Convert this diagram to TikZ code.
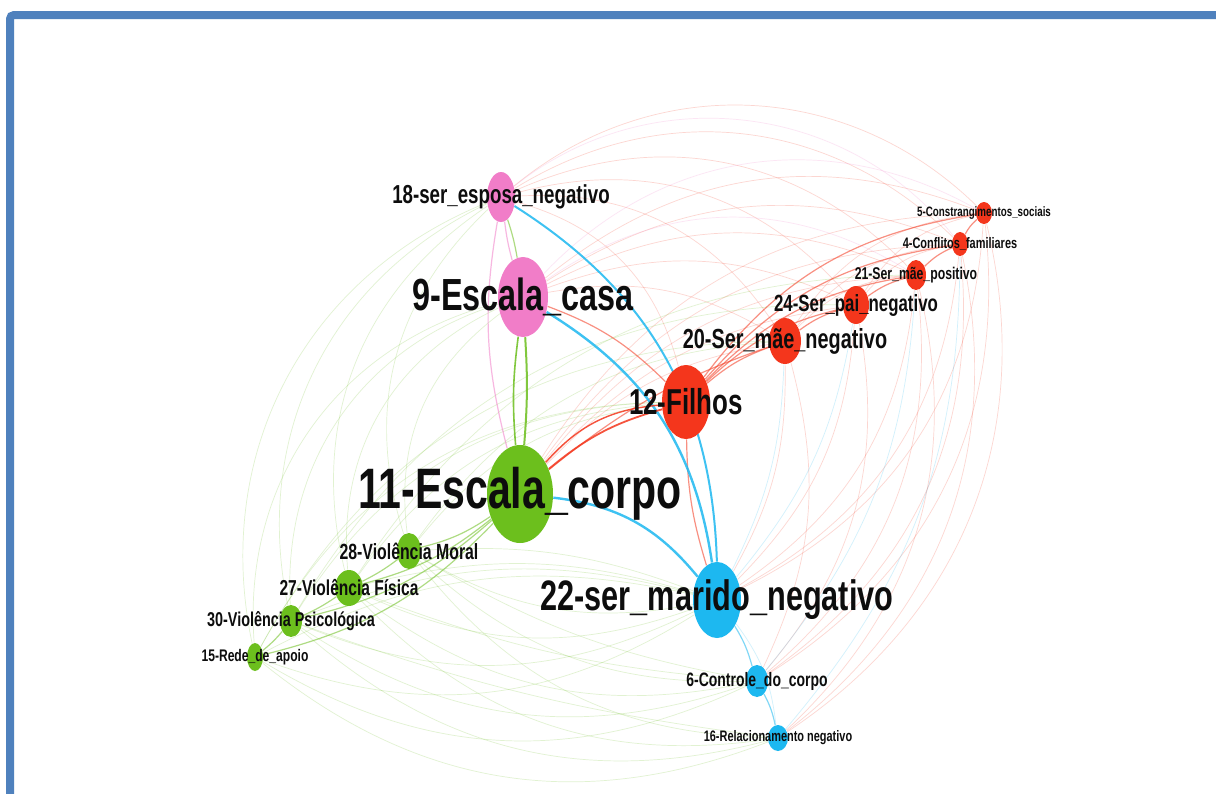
\documentclass[tikz,border=0pt]{standalone}
\usepackage{fontspec}
\setmainfont[FakeStretch=0.72]{Liberation Sans}
\usepackage{tikz}
\usetikzlibrary{shapes.geometric,backgrounds}
\definecolor{FrameBlue}{HTML}{4F81BD}
\definecolor{NodeRed}{HTML}{F4361C}
\definecolor{NodePink}{HTML}{F17DC8}
\definecolor{NodeGreen}{HTML}{6CBF1D}
\definecolor{NodeBlue}{HTML}{1DB8F0}

\begin{document}
\begin{tikzpicture}[x=0.5pt,y=-0.5pt]
  \tikzstyle{vtx}=[ellipse,inner sep=0pt]
  \tikzstyle{lbl}=[inner sep=0pt,text=black!95]
  \tikzstyle{faint}=[line width=0.35pt,opacity=0.2]
  \tikzstyle{mid}=[line width=0.6pt,opacity=0.55]
  \tikzstyle{strong}=[line width=1.2pt,opacity=0.85]
  \useasboundingbox (0,0) rectangle (1216,793);

  % vertices
  \node[vtx,fill=NodePink,minimum width=14pt,minimum height=25pt] (n18) at (501,197) {};
  \node[vtx,fill=NodePink,minimum width=25pt,minimum height=40pt] (n9) at (523,297) {};
  \node[vtx,fill=NodeGreen,minimum width=33pt,minimum height=49pt] (n11) at (520,494) {};
  \node[vtx,fill=NodeRed,minimum width=24pt,minimum height=37pt] (n12) at (686,402) {};
  \node[vtx,fill=NodeBlue,minimum width=24pt,minimum height=38pt] (n22) at (717,600) {};
  \node[vtx,fill=NodeRed,minimum width=16pt,minimum height=23pt] (n20) at (785,341) {};
  \node[vtx,fill=NodeRed,minimum width=13pt,minimum height=19pt] (n24) at (856,305) {};
  \node[vtx,fill=NodeRed,minimum width=10pt,minimum height=15pt] (n21) at (916,275) {};
  \node[vtx,fill=NodeRed,minimum width=8pt,minimum height=12pt] (n4) at (960,244) {};
  \node[vtx,fill=NodeRed,minimum width=8pt,minimum height=11pt] (n5) at (984,213) {};
  \node[vtx,fill=NodeGreen,minimum width=12pt,minimum height=18pt] (n28) at (409,551) {};
  \node[vtx,fill=NodeGreen,minimum width=14pt,minimum height=18pt] (n27) at (349,588) {};
  \node[vtx,fill=NodeGreen,minimum width=11pt,minimum height=16pt] (n30) at (291,621) {};
  \node[vtx,fill=NodeGreen,minimum width=8pt,minimum height=14pt] (n15) at (255,657) {};
  \node[vtx,fill=NodeBlue,minimum width=11pt,minimum height=16pt] (n6) at (757,681) {};
  \node[vtx,fill=NodeBlue,minimum width=10pt,minimum height=13pt] (n16) at (778,738) {};

  % labels
  \node[lbl,font=\bfseries\fontsize{13}{14}\selectfont] (t18) at (n18) {18-ser\_esposa\_negativo};
  \node[lbl,font=\bfseries\fontsize{22.5}{24}\selectfont] (t9) at (n9) {9-Escala\_casa};
  \node[lbl,font=\bfseries\fontsize{28.5}{30}\selectfont] (t11) at (n11) {11-Escala\_corpo};
  \node[lbl,font=\bfseries\fontsize{18}{20}\selectfont] (t12) at (n12) {12-Filhos};
  \node[lbl,font=\bfseries\fontsize{21.3}{23}\selectfont] (t22) at (n22) {22-ser\_marido\_negativo};
  \node[lbl,font=\bfseries\fontsize{13.8}{15}\selectfont] (t20) at (n20) {20-Ser\_mãe\_negativo};
  \node[lbl,font=\bfseries\fontsize{11.7}{13}\selectfont] (t24) at (n24) {24-Ser\_pai\_negativo};
  \node[lbl,font=\bfseries\fontsize{8.5}{10}\selectfont] (t21) at (n21) {21-Ser\_mãe\_positivo};
  \node[lbl,font=\bfseries\fontsize{7.6}{9}\selectfont] (t4) at (n4) {4-Conflitos\_familiares};
  \node[lbl,font=\bfseries\fontsize{6.8}{8}\selectfont] (t5) at (n5) {5-Constrangimentos\_sociais};
  \node[lbl,font=\bfseries\fontsize{11}{12}\selectfont] (t28) at (n28) {28-Violência Moral};
  \node[lbl,font=\bfseries\fontsize{10.8}{12}\selectfont] (t27) at (n27) {27-Violência Física};
  \node[lbl,font=\bfseries\fontsize{10}{11}\selectfont] (t30) at (n30) {30-Violência Psicológica};
  \node[lbl,font=\bfseries\fontsize{8.4}{9}\selectfont] (t15) at (n15) {15-Rede\_de\_apoio};
  \node[lbl,font=\bfseries\fontsize{9.7}{11}\selectfont] (t6) at (n6) {6-Controle\_do\_corpo};
  \node[lbl,font=\bfseries\fontsize{7.6}{9}\selectfont] (t16) at (n16) {16-Relacionamento negativo};

  % edges
  \begin{scope}[on background layer]
    \fill[white] (0,0) rectangle (1216,793);
    % faint red arcs
    \foreach \s/\t/\b in {n9/n20/20,n9/n24/22,n9/n21/25,n9/n4/27,n9/n5/30,
        n18/n12/30,n18/n20/30,n18/n24/32,n18/n21/35,n18/n4/38,n18/n5/42,
        n11/n20/18,n11/n24/20,n11/n21/24,n11/n4/26,n11/n5/28,
        n20/n21/20,n20/n4/22,n20/n5/25,n24/n4/20,n24/n5/22,
        n20/n22/15,n24/n22/20,n21/n22/25,n4/n22/28,n5/n22/30,
        n20/n6/20,n24/n6/25,n21/n6/28,n4/n6/30,n5/n6/32,
        n21/n16/30,n4/n16/32,n5/n16/35}
      \draw[faint,NodeRed] (\s) to[bend left=\b] (\t);
    % faint green arcs
    \foreach \s/\t/\b in {n15/n9/40,n30/n9/38,n27/n9/35,n28/n9/30,
        n15/n18/40,n30/n18/38,n27/n18/35,n28/n18/32,
        n15/n12/30,n30/n12/28,n27/n12/25,n28/n12/22,
        n15/n20/30,n30/n24/30,n28/n20/25,n27/n21/28,
        n22/n28/20,n22/n27/22,n22/n30/24,n22/n15/26,
        n6/n28/22,n6/n27/24,n6/n30/26,n6/n15/28,
        n16/n28/25,n16/n27/27,n16/n30/28,n16/n15/30,
        n28/n22/12,n27/n22/15,n30/n22/18,n15/n22/20,
        n28/n6/-10,n27/n6/-8,n30/n16/-6}
      \draw[faint,NodeGreen] (\s) to[bend left=\b] (\t);
    % faint pink and blue arcs
    \foreach \s/\t/\b in {n9/n5/38,n18/n4/45,n9/n21/33}
      \draw[faint,NodePink] (\s) to[bend left=\b] (\t);
    \foreach \s/\t/\b in {n22/n20/-12,n22/n24/-15,n6/n21/-18,n16/n4/-20,n22/n16/15}
      \draw[faint,NodeBlue] (\s) to[bend left=\b] (\t);
    % medium edges
    \foreach \s/\t/\b in {n12/n20/10,n12/n24/15,n12/n21/18,n12/n4/20,n12/n5/22,
        n20/n24/10,n24/n21/10,n21/n4/10,n4/n5/10,n9/n12/12,n11/n20/10,n12/n22/-8}
      \draw[mid,NodeRed] (\s) to[bend left=\b] (\t);
    \foreach \s/\t/\b in {n11/n28/10,n11/n27/12,n11/n30/14,n11/n15/16,
        n28/n27/5,n27/n30/5,n30/n15/5,n18/n9/4}
      \draw[mid,NodeGreen] (\s) to[bend left=\b] (\t);
    \foreach \s/\t/\b in {n22/n6/8,n6/n16/8}
      \draw[mid,NodeBlue] (\s) to[bend left=\b] (\t);
    \draw[mid,NodePink] (n9) to[bend left=4] (n18);
    \draw[mid,NodePink] (n11) to[bend left=12] (n18);
    % strong edges
    \draw[strong,NodeBlue,line width=1pt] (n18) to[bend left=28] (n22);
    \draw[strong,NodeBlue] (n9) to[bend left=25] (n22);
    \draw[strong,NodeBlue] (n11) to[bend left=22] (n22);
    \draw[strong,NodeRed,line width=0.9pt] (n11) to[bend left=12] (n12);
    \draw[strong,NodeRed,line width=0.7pt] (n11) to[bend left=22] (n12);
    \draw[strong,NodeGreen,line width=1pt] (n9) to[bend left=4] (n11);
    \draw[strong,NodeGreen,line width=0.8pt] (n11) to[bend left=6] (n9);
  \end{scope}

  % frame
  \draw[FrameBlue,line width=4pt,rounded corners=2pt] (10,820) -- (10,15) -- (1240,15);
\end{tikzpicture}
\end{document}
